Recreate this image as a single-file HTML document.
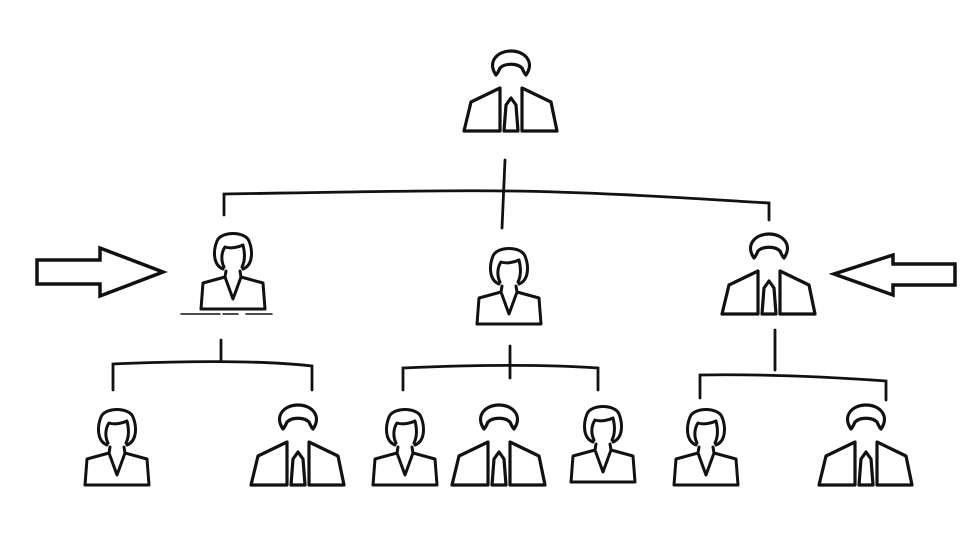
<!DOCTYPE html>
<html><head><meta charset="utf-8"><style>html,body{margin:0;padding:0;background:#fff}svg{display:block}</style></head>
<body>
<svg width="975" height="548" viewBox="0 0 975 548" xmlns="http://www.w3.org/2000/svg">
<defs>
<g id="man" fill="none" stroke="#111" stroke-width="3.2" stroke-linejoin="round" stroke-linecap="round">
  <path d="M-15,25 C-24,12 -14,1 0,1 C14,1 24,12 15,25 C13,23 12,20 11,18 C6,13 -6,13 -11,18 C-12,20 -13,23 -15,25 Z"/>
  <path d="M-11,38 L-11,81 L-47,81 L-40,52 Z"/>
  <path d="M11,38 L11,81 L46,81 L40,52 Z"/>
  <path d="M0,48 L-5,55 L-7,81 L7,81 L5,55 Z"/>
</g>
<g id="woman" fill="none" stroke="#111" stroke-width="3" stroke-linejoin="round" stroke-linecap="round">
  <path d="M-10,38 C-20,34 -20,20 -16,10 C-12,0 12,0 16,10 C20,20 20,34 10,38"/>
  <path d="M-9,36 C-12,30 -12,22 -8,16 C-2,18 6,16 10,14 C12,22 12,30 9,36"/>
  <path d="M-7,40 L-8,46 L-30,52 L-32,78 L32,78 L30,52 L8,46 L7,40"/>
  <path d="M-8,46 L0,68 L8,46"/>
</g>
</defs>
<g fill="none" stroke="#111" stroke-width="2.8" stroke-linecap="round">
  <path d="M505,160 L502,228"/>
  <path d="M224,215 L224,194 C350,192 450,190 509,191 C600,192 700,199 769,203 L769,220"/>
  <path d="M221,340 L221,360"/>
  <path d="M113,390 L113,364 C180,361 260,360 312,366 L312,390"/>
  <path d="M510,346 L510,378"/>
  <path d="M403,390 L403,368 C470,365 540,364 598,368 L598,390"/>
  <path d="M775,330 L775,370"/>
  <path d="M700,398 L700,375 C760,374 830,377 886,381 L886,400"/>
  <path d="M37,260 L100,260 L100,248 L163,272 L100,296 L100,284 L37,284 Z" stroke-width="3.5" stroke-linejoin="miter"/>
  <path d="M955,264 L893,264 L893,255 L834,274 L893,295 L893,285 L955,285 Z" stroke-width="3.5" stroke-linejoin="miter"/>
  <path d="M181,314 L220,314 M223,314 L238,314 M246,314 L272,314" stroke-width="1.5"/>
</g>
<use href="#man" x="511" y="50"/>
<use href="#woman" x="233" y="231"/>
<use href="#woman" x="509" y="246"/>
<use href="#man" x="769" y="233"/>
<use href="#woman" x="117" y="407"/>
<use href="#man" x="298" y="404"/>
<use href="#woman" x="405" y="407"/>
<use href="#man" x="499" y="404"/>
<use href="#woman" x="603" y="404"/>
<use href="#woman" x="706" y="407"/>
<use href="#man" x="866" y="404"/>
</svg>
</body></html>
